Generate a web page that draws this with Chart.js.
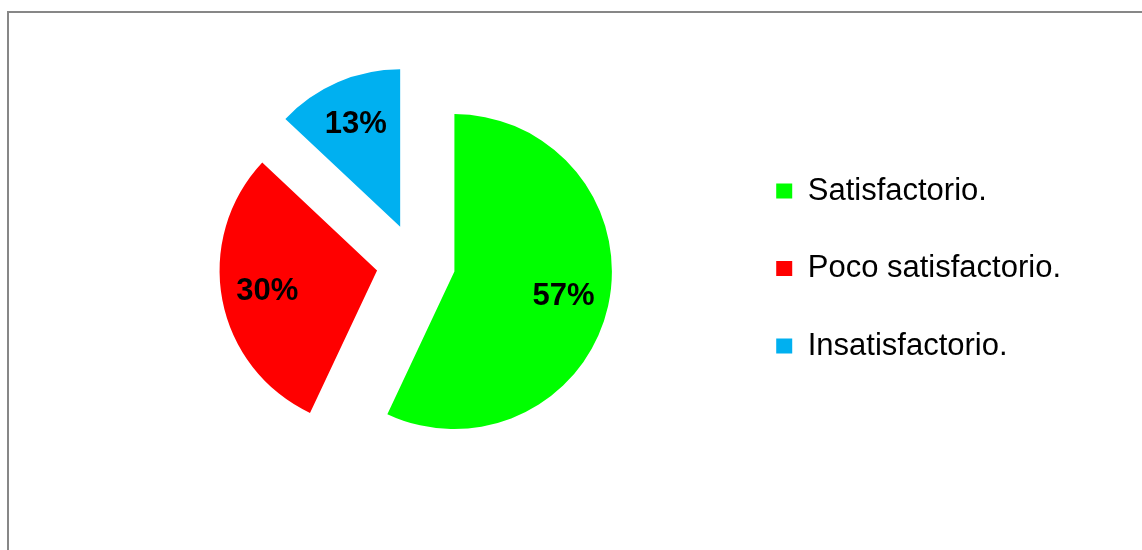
<!DOCTYPE html>
<html lang="es">
<head>
  <meta charset="UTF-8" />
  <title>Nivel de satisfacción</title>
  <script src="https://cdn.jsdelivr.net/npm/chart.js"></script>
  <style>
    * {
      margin: 0;
      padding: 0;
      box-sizing: border-box;
    }
    html, body {
      width: 1142px;
      height: 550px;
      overflow: hidden;
      background: #ffffff;
    }
    /* marco gris del área del gráfico */
    .marco {
      position: absolute;
      left: 7px;
      top: 11px;
      width: 1200px;
      height: 600px;
      border: 2px solid #878787;
    }
    .contenedor {
      position: absolute;
      left: 0;
      top: 0;
      width: 1142px;
      height: 550px;
    }
  </style>
</head>
<body>
  <div class="marco"></div>
  <div class="contenedor"><canvas id="grafico"></canvas></div>

  <script>
    // Datos
    const categorias = ['Satisfactorio.', 'Poco satisfactorio.', 'Insatisfactorio.'];
    const porcentajes = [57, 30, 13];
    const colores = ['#00ff00', '#ff0000', '#00b0f0'];

    const RADIO = 157.5;
    const SEPARACION = 158; // Chart.js desplaza cada sector offset/4 px

    // Chart.js agranda los sectores separados; se devuelve el radio y el ángulo reales
    const ajusteSectores = {
      id: 'ajusteSectores',
      afterDatasetUpdate(chart, args) {
        args.meta.data.forEach((arc) => {
          const t = SEPARACION / 4;
          const extra = t * (1 - Math.sin(Math.min(Math.PI, arc.circumference)));
          const d = extra / (Math.PI * RADIO) / 2;
          arc.outerRadius = RADIO - extra;
          arc.startAngle -= d;
          arc.endAngle += d;
        });
      }
    };

    // Porcentajes dentro de cada sector
    const etiquetas = {
      id: 'etiquetas',
      afterDatasetsDraw(chart) {
        const ctx = chart.ctx;
        const meta = chart.getDatasetMeta(0);
        ctx.save();
        ctx.font = 'bold 31px "Liberation Sans", Arial, sans-serif';
        ctx.fillStyle = '#000000';
        ctx.textAlign = 'center';
        ctx.textBaseline = 'middle';
        meta.data.forEach((arc, i) => {
          const medio = (arc.startAngle + arc.endAngle) / 2;
          const dist = SEPARACION / 4 + RADIO * 0.71;
          ctx.fillText(
            porcentajes[i] + '%',
            arc.x + Math.cos(medio) * dist,
            arc.y + Math.sin(medio) * dist
          );
        });
        ctx.restore();
      }
    };

    const ctx = document.getElementById('grafico').getContext('2d');
    new Chart(ctx, {
      type: 'pie',
      data: {
        labels: categorias,
        datasets: [
          {
            data: porcentajes,
            backgroundColor: colores,
            borderWidth: 0,
            offset: SEPARACION,
            hoverOffset: 0,
            clip: false
          }
        ]
      },
      options: {
        responsive: true,
        maintainAspectRatio: false,
        animation: false,
        events: [],
        radius: RADIO,
        layout: {
          padding: { left: 102, right: 71, top: 118, bottom: 142 }
        },
        plugins: {
          tooltip: { enabled: false },
          legend: {
            position: 'right',
            align: 'end',
            labels: {
              boxWidth: 16,
              boxHeight: 15,
              padding: 46.5,
              color: '#000000',
              font: { family: '"Liberation Sans", Arial, sans-serif', size: 31 }
            }
          }
        }
      },
      plugins: [ajusteSectores, etiquetas]
    });
  </script>
</body>
</html>
